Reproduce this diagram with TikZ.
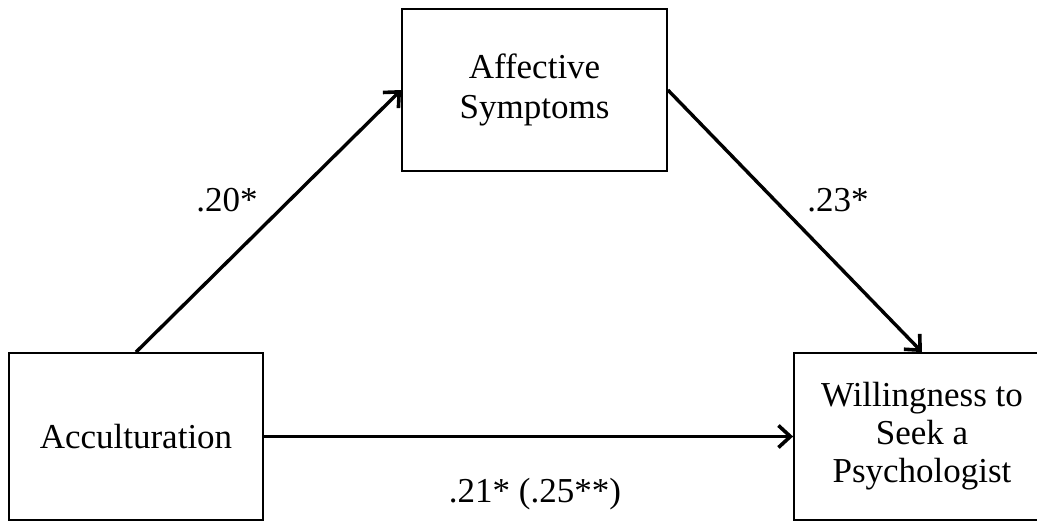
\documentclass[tikz,border=0pt]{standalone}
\usepackage{fontspec}
\setmainfont{Liberation Serif}
\usetikzlibrary{arrows.meta}
\begin{document}
\begin{tikzpicture}[x=1pt,y=-1pt,
  box/.style={draw, line width=1.8pt, align=center, inner sep=0pt,
    font=\fontsize{35}{40}\selectfont},
  arr/.style={line width=3.4pt, -{Straight Barb[length=12pt,width=22pt,line width=3.6pt]}},
  lab/.style={anchor=base, font=\fontsize{35}{39}\selectfont}]
\useasboundingbox (0,0) rectangle (1037,522);
\node[box, minimum width=265pt, minimum height=162pt] (aff) at (534.5,90) {Affective\\Symptoms};
\node[box, minimum width=254pt, minimum height=167pt] (acc) at (136,436.5) {Acculturation};
\node[box, minimum width=256pt, minimum height=167pt] (will) at (922,436.5) {};
\node[align=center, font=\fontsize{35}{38}\selectfont, inner sep=0pt] (willtxt) at (922,436) {Willingness to\\Seek a\\Psychologist};
\draw[arr] (acc.north) -- (aff.west);
\draw[arr] (aff.east) -- (will.north);
\draw[arr] (acc.east) -- (will.west);
\node[lab] (l1) at (227,211) {.20*};
\node[lab] (l2) at (838,211) {.23*};
\node[lab] (l3) at (535,502) {.21* (.25**)};
\end{tikzpicture}
\end{document}
